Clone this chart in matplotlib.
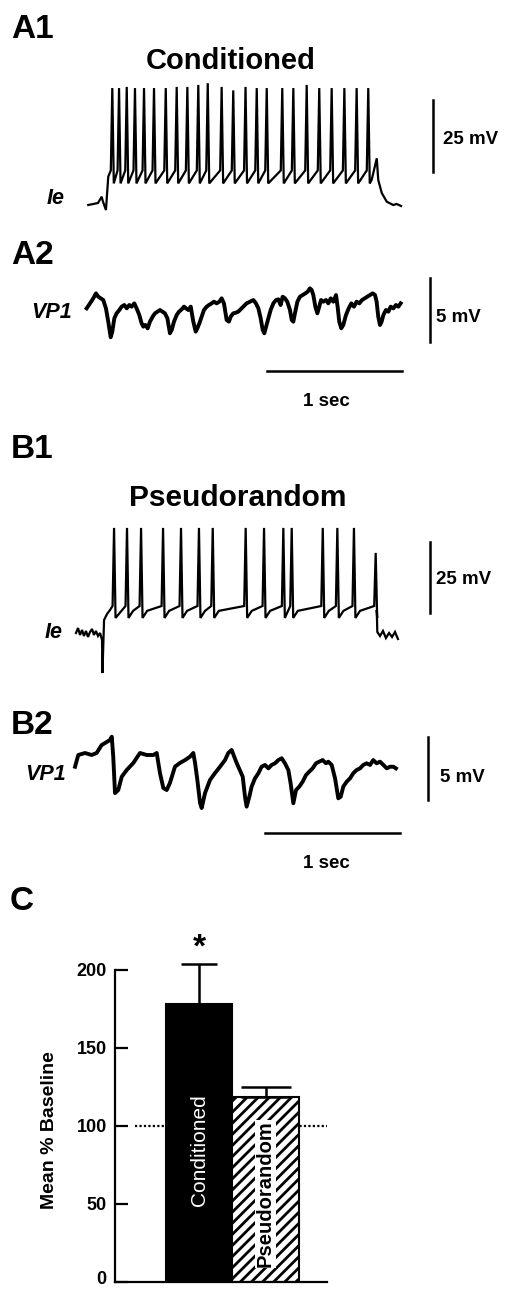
import numpy as np
import matplotlib
matplotlib.use("Agg")
import matplotlib.pyplot as plt
from matplotlib.transforms import ScaledTranslation

plt.rcParams['font.family'] = ['Liberation Sans', 'DejaVu Sans']
plt.rcParams['hatch.linewidth'] = 2.0

W, H = 505, 1289

# ---- A1: conditioned, intracellular (time in s, Vm in mV rel. to rest)
a1_pre_t = [0.002, 0.074, 0.101, 0.111, 0.133, 0.150]
a1_pre_v = [0.0, 0.69, 2.88, 1.15, -1.74, 9.83]
a1_spikes = [0.180, 0.230, 0.287, 0.348, 0.415, 0.489, 0.576, 0.657, 0.736,
             0.817, 0.887, 0.990, 1.076, 1.167, 1.250, 1.324, 1.439, 1.521,
             1.620, 1.713, 1.805, 1.899, 1.990, 2.076]
a1_peaks = [40.6, 40.6, 41.0, 40.6, 40.6, 40.6, 40.6, 41.0, 41.0, 41.7, 42.3, 41.0,
            39.8, 41.0, 40.6, 40.6, 40.6, 40.6, 41.7, 40.6, 40.6, 40.6, 40.6, 40.6]
a1_post_t = [2.101, 2.139, 2.150, 2.176, 2.213, 2.261, 2.287, 2.319]
a1_post_v = [8.68, 16.2, 8.68, 4.17, 1.15, 0.0, 0.35, -0.35]

# ---- A2: conditioned, VP1
a2_t = [-0.010, 0.015, 0.039, 0.059, 0.076, 0.094, 0.113, 0.133, 0.150, 0.168,
        0.180, 0.195, 0.212, 0.232, 0.249, 0.269, 0.287, 0.306, 0.323, 0.343,
        0.360, 0.380, 0.397, 0.410, 0.425, 0.442, 0.459, 0.479, 0.496, 0.514,
        0.533, 0.551, 0.570, 0.588, 0.607, 0.620, 0.637, 0.657, 0.674, 0.694,
        0.711, 0.726, 0.743, 0.761, 0.780, 0.798, 0.810, 0.825, 0.842, 0.859,
        0.879, 0.896, 0.916, 0.933, 0.953, 0.973, 0.990, 1.007, 1.027, 1.044,
        1.057, 1.076, 1.096, 1.113, 1.150, 1.175, 1.200, 1.225, 1.244, 1.262,
        1.279, 1.294, 1.306, 1.319, 1.336, 1.353, 1.373, 1.393, 1.410, 1.427,
        1.442, 1.459, 1.476, 1.496, 1.509, 1.521, 1.533, 1.551, 1.570, 1.590,
        1.610, 1.627, 1.644, 1.657, 1.669, 1.684, 1.699, 1.713, 1.726, 1.743,
        1.763, 1.780, 1.798, 1.817, 1.837, 1.849, 1.861, 1.876, 1.891, 1.911,
        1.931, 1.951, 1.970, 1.990, 2.010, 2.030, 2.049, 2.069, 2.089, 2.109,
        2.126, 2.138, 2.150, 2.163, 2.175, 2.188, 2.207, 2.225, 2.242, 2.262,
        2.281, 2.299, 2.316]
a2_v = [0.13, 0.52, 0.91, 1.30, 1.04, 0.91, 0.78, 0.13, -0.91, -2.13,
        -1.69, -0.65, -0.26, 0.0, 0.26, 0.39, 0.13, 0.39, 0.26, 0.52,
        0.13, -0.39, -1.04, -1.30, -1.17, -1.43, -0.91, -0.52, -0.26, -0.13,
        0.0, -0.13, -0.26, -0.65, -1.82, -1.56, -0.91, -0.39, -0.13, 0.05,
        0.26, 0.13, 0.0, 0.26, -0.91, -1.69, -1.43, -1.04, -0.52, 0.0,
        0.26, 0.39, 0.52, 0.65, 0.52, 0.65, 0.91, 0.52, -0.78, -0.91,
        -0.52, -0.26, -0.21, -0.13, 0.26, 0.52, 0.65, 0.78, 0.52, 0.13,
        -0.65, -1.56, -1.82, -1.30, -0.65, 0.0, 0.52, 0.78, 0.83, 0.39,
        1.04, 0.91, 0.65, 0.0, -0.78, -0.91, -0.26, 0.65, 1.04, 1.17,
        1.30, 1.43, 1.69, 1.56, 1.17, 0.26, -0.26, 0.26, 0.78, 0.65,
        0.78, 0.52, 0.91, 0.65, 1.17, 0.26, -0.91, -1.43, -1.17, -0.39,
        0.13, 0.52, 0.26, 0.65, 0.52, 0.78, 0.91, 1.04, 1.17, 1.30,
        1.17, 0.65, -0.52, -1.17, -0.91, -0.39, 0.0, -0.13, 0.26, 0.13,
        0.39, 0.26, 0.52]

# ---- B1: pseudorandom, intracellular
b1_pre_t = [-0.089, -0.074, -0.059, -0.044, -0.030, -0.015, 0.0, 0.015, 0.030,
            0.044, 0.059, 0.074, 0.089, 0.104, 0.107, 0.119, 0.141, 0.163]
b1_pre_v = [0.70, 2.46, 0.0, 1.76, -0.35, 1.41, -0.70, 1.06, 2.11,
            0.0, 1.41, -0.35, 0.70, -1.76, -13.4, 5.28, 7.39, 8.80]
b1_spikes = [0.193, 0.289, 0.393, 0.556, 0.689, 0.822, 0.924, 1.168, 1.304,
             1.447, 1.509, 1.739, 1.847, 1.970, 2.131]
b1_peaks = [37.7, 37.7, 37.7, 37.7, 37.7, 37.7, 37.7, 37.7, 37.7,
            37.7, 37.7, 37.7, 37.7, 37.7, 28.9]
b1_post_t = [2.139, 2.143, 2.163, 2.185, 2.207, 2.230, 2.252, 2.274, 2.296]
b1_post_v = [8.8, 1.06, -0.35, 1.41, -1.06, 0.70, -0.70, 1.06, -1.41]

# ---- B2: pseudorandom, VP1
b2_t = [-0.096, -0.072, -0.022, 0.027, 0.064, 0.101, 0.126, 0.163, 0.176, 0.187,
        0.200, 0.224, 0.250, 0.287, 0.336, 0.385, 0.435, 0.484, 0.509, 0.533,
        0.558, 0.583, 0.607, 0.644, 0.681, 0.719, 0.756, 0.780, 0.793, 0.810,
        0.830, 0.842, 0.867, 0.904, 0.941, 0.978, 1.015, 1.039, 1.064, 1.101,
        1.146, 1.163, 1.175, 1.195, 1.212, 1.237, 1.262, 1.286, 1.311, 1.336,
        1.360, 1.385, 1.410, 1.435, 1.459, 1.484, 1.501, 1.521, 1.541, 1.565,
        1.590, 1.615, 1.639, 1.664, 1.689, 1.713, 1.738, 1.763, 1.780, 1.805,
        1.830, 1.854, 1.872, 1.891, 1.916, 1.941, 1.965, 1.990, 2.015, 2.039,
        2.064, 2.089, 2.113, 2.138, 2.163, 2.188, 2.213, 2.237, 2.262, 2.281]
b2_v = [0.26, 1.19, 1.35, 1.19, 1.35, 1.98, 2.14, 2.38, 2.64, 1.06,
        -1.83, -1.59, -0.53, 0.0, 0.56, 1.35, 1.19, 1.19, 1.35, -0.24,
        -1.43, -1.59, -1.03, 0.26, 0.56, 0.79, 1.06, 1.35, 0.56, -0.79,
        -2.62, -3.02, -1.83, -0.79, -0.24, 0.26, 0.79, 1.35, 1.59, 0.56,
        -0.53, -2.12, -2.91, -2.12, -1.32, -0.66, -0.26, 0.26, 0.40, 0.13,
        0.40, 0.53, 0.79, 0.93, 0.53, 0.0, -1.06, -2.64, -1.59, -1.32,
        -0.93, -0.40, -0.13, 0.13, 0.53, 0.66, 0.79, 0.53, 0.66, 0.40,
        -0.66, -2.25, -2.12, -1.32, -0.93, -0.66, -0.26, 0.0, 0.13, 0.40,
        0.53, 0.40, 0.79, 0.53, 0.66, 0.40, 0.13, 0.26, 0.26, 0.13]

# ---- C: summary bars
groups = ['Conditioned', 'Pseudorandom']
means = [178.2, 118.6]
sems = [25.6, 6.4]
baseline = 100


def px(x, y):
    return x / W, 1 - y / H


def trace_axes(top, bottom, v_at_bottom, v_at_top):
    ax = fig.add_axes([0, 1 - bottom / H, 1, (bottom - top) / H])
    ax.set_xlim(-88 / 135, 417 / 135)
    ax.set_ylim(v_at_bottom, v_at_top)
    ax.axis('off')
    return ax


def spike_train(pre_t, pre_v, spikes, peaks, trough, thr, plateau, post_t, post_v):
    t, v = list(pre_t), list(pre_v)
    for i, (ts, pk) in enumerate(zip(spikes, peaks)):
        t += [ts - 0.011, ts, ts + 0.011]
        v += [thr, pk, trough]
        nxt = spikes[i + 1] if i + 1 < len(spikes) else post_t[0]
        if plateau is not None and nxt - ts > 0.1:
            t.append(ts + 0.045)
            v.append(plateau)
    return t + list(post_t), v + list(post_v)


fig = plt.figure(figsize=(W / 100, H / 100), dpi=100)

lab = dict(fontsize=24, fontweight='bold', va='center', ha='left')
fig.text(*px(11, 30), 'A1', **lab)
fig.text(*px(11, 255), 'A2', **lab)
fig.text(*px(11, 450), 'B1', **lab)
fig.text(*px(11, 726), 'B2', **lab)
fig.text(*px(10, 901), 'C', **lab)

fig.text(*px(231, 61), 'Conditioned', fontsize=21, fontweight='bold', ha='center', va='center')
fig.text(*px(238, 498), 'Pseudorandom', fontsize=21.5, fontweight='bold', ha='center', va='center')

unit = dict(fontsize=13.5, fontweight='bold', va='center', ha='left')
side = dict(fontsize=15.5, fontweight='bold', style='italic', va='center', ha='left')

# A1
ax = trace_axes(70, 220, -5.208, 46.875)
t, v = spike_train(a1_pre_t, a1_pre_v, a1_spikes, a1_peaks, 7.5, 12.0, None, a1_post_t, a1_post_v)
ax.plot(t, v, color='black', lw=1.6, solid_joinstyle='miter')
ax.plot([2.556, 2.556], [11.5, 36.5], color='black', lw=1.8)
fig.text(*px(443, 140), '25 mV', **unit)
fig.text(*px(47, 198), 'Ie', **side)

# A2
ax = trace_axes(260, 380, -5.469, 3.906)
ax.plot(a2_t, a2_v, color='black', lw=2.8, solid_joinstyle='round')
ax.plot([2.533, 2.533], [-2.5, 2.5], color='black', lw=1.8)
ax.plot([1.326, 2.326], [-4.766, -4.766], color='black', lw=1.8)
fig.text(*px(436, 317), '5 mV', **unit)
fig.text(*px(326, 401), '1 sec', **dict(unit, ha='center'))
fig.text(*px(31, 313), 'VP1', **side)

# B1
ax = trace_axes(510, 680, -15.85, 44.01)
t, v = spike_train(b1_pre_t, b1_pre_v, b1_spikes, b1_peaks, 6.0, 10.2, 8.5, b1_post_t, b1_post_v)
ax.plot(t, v, color='black', lw=1.6, solid_joinstyle='miter')
ax.plot([2.533, 2.533], [7.75, 32.75], color='black', lw=1.8)
fig.text(*px(436, 580), '25 mV', **unit)
fig.text(*px(45, 632), 'Ie', **side)

# B2
ax = trace_axes(720, 840, -5.556, 3.968)
ax.plot(b2_t, b2_v, color='black', lw=2.8, solid_joinstyle='round')
ax.plot([2.519, 2.519], [-2.38, 2.62], color='black', lw=1.8)
ax.plot([1.311, 2.311], [-5.0, -5.0], color='black', lw=1.8)
fig.text(*px(440, 777), '5 mV', **unit)
fig.text(*px(326, 863), '1 sec', **dict(unit, ha='center'))
fig.text(*px(25, 774), 'VP1', **side)

# C
ax = fig.add_axes([115 / W, 1 - 1282 / H, (327 - 115) / W, (1282 - 970) / H])
ax.set_xlim(-84 / 66.5, 128 / 66.5)
ax.set_ylim(0, 200)
ax.hlines(baseline, -0.96, 1.93, colors='black', linestyles=(0, (1, 1)), lw=1.6, zorder=1)
ax.bar(0, means[0], width=1, color='black', edgecolor='black', lw=1.5, zorder=2)
ax.bar(1, means[1], width=1, color='white', edgecolor='black', lw=1.5, hatch='///', zorder=2)
for i, cap in zip(range(2), [13, 18]):
    eb = ax.errorbar(i, means[i], yerr=[[0], [sems[i]]], fmt='none', ecolor='black',
                     elinewidth=1.8, capthick=1.8, capsize=cap, zorder=3)
    for art in eb.get_children():
        art.set_clip_on(False)
ax.text(0, 214, '*', ha='center', va='center', fontsize=24, fontweight='bold', clip_on=False)
ax.text(0, 84.6, groups[0], rotation=90, color='white', fontsize=15, ha='center', va='center', zorder=4)
ax.text(1, 56.4, groups[1], rotation=90, color='black', fontsize=14.5, fontweight='bold',
        ha='center', va='center', zorder=4,
        bbox=dict(facecolor='white', edgecolor='none', pad=0.5))

for s in ['top', 'right']:
    ax.spines[s].set_visible(False)
for s in ['left', 'bottom']:
    ax.spines[s].set_linewidth(1.6)
ax.set_xticks([])
ax.set_yticks([0, 50, 100, 150, 200])
ax.tick_params(axis='y', direction='in', length=9, width=1.6, labelsize=13, pad=6)
for lbl in ax.get_yticklabels():
    lbl.set_fontweight('bold')
# keep the "0" label inside the figure edge
zero = ax.get_yticklabels()[0]
zero.set_transform(zero.get_transform() + ScaledTranslation(0, 4 / 100, fig.dpi_scale_trans))
ax.set_ylabel('Mean % Baseline', fontsize=14, fontweight='bold')
ax.yaxis.set_label_coords(-0.269, 0.487)

fig.savefig('out.png', dpi=100)
